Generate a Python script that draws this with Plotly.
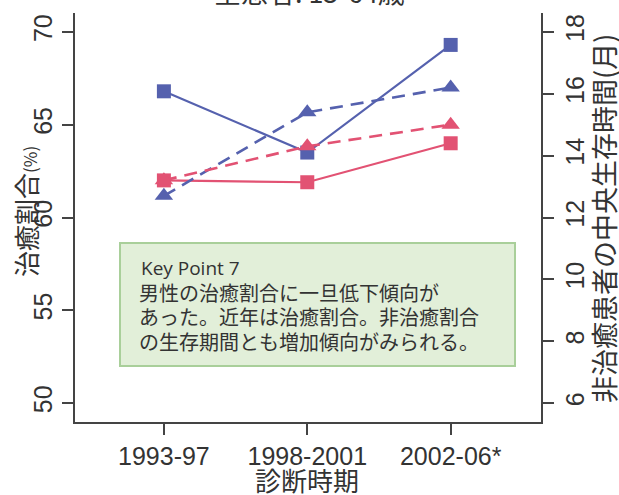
import plotly.graph_objects as go

periods = ["1993-97", "1998-2001", "2002-06*"]
cure_male = [66.8, 63.5, 69.3]
cure_female = [62.0, 61.9, 64.0]
surv_male = [12.7, 15.4, 16.2]
surv_female = [13.2, 14.3, 15.0]
left_ticks = [50, 55, 60, 65, 70]
right_ticks = [6, 8, 10, 12, 14, 16, 18]

BLUE = "#5561AE"
RED = "#E25273"
AX = "#444444"
CJK = "Noto Sans CJK JP"
NUM = "Liberation Sans, Arial, sans-serif"

W, H = 619, 495
L, R, T, B = 75, 541, 13, 422


def px(x):
    return (x - L) / (R - L)


def py(y):
    return (B - y) / (B - T)


fig = go.Figure()
fig.add_trace(go.Scatter(x=periods, y=cure_male, mode="lines+markers",
                         line=dict(color=BLUE, width=2.2),
                         marker=dict(symbol="square", size=14, color=BLUE)))
fig.add_trace(go.Scatter(x=periods, y=surv_male, yaxis="y2", mode="lines+markers",
                         line=dict(color=BLUE, width=2.6, dash="13px,8px"),
                         marker=dict(symbol="triangle-up", size=16, color=BLUE)))
fig.add_trace(go.Scatter(x=periods, y=cure_female, mode="lines+markers",
                         line=dict(color=RED, width=2.2),
                         marker=dict(symbol="square", size=14, color=RED)))
fig.add_trace(go.Scatter(x=periods, y=surv_female, yaxis="y2", mode="lines+markers",
                         line=dict(color=RED, width=2.6, dash="13px,8px"),
                         marker=dict(symbol="triangle-up", size=16, color=RED)))

# Key Point box
fig.add_shape(type="rect", xref="paper", yref="paper", layer="below",
              x0=px(120), x1=px(515), y0=py(366), y1=py(243),
              fillcolor="#E2EFD9", line=dict(color="#A9CF9A", width=2))
fig.add_annotation(xref="paper", yref="paper", x=px(139), y=py(268), xanchor="left",
                   yanchor="middle", showarrow=False, text="Key Point 7",
                   font=dict(family="Open Sans, " + CJK, size=19, color="#333333"))
box_lines = ["男性の治癒割合に一旦低下傾向が",
             "あった。近年は治癒割合。非治癒割合",
             "の生存期間とも増加傾向がみられる。"]
for n, t in enumerate(box_lines):
    fig.add_annotation(xref="paper", yref="paper", x=px(137), y=py(292 + 24.5 * n),
                       xanchor="left", yanchor="middle", showarrow=False, text=t,
                       font=dict(family=CJK, size=20, color="#333333"))

# titles
fig.add_annotation(xref="paper", yref="paper", x=px(309), y=py(13), xanchor="center",
                   yanchor="bottom", showarrow=False, text="全患者: 15-64歳",
                   font=dict(family=CJK, size=27, color="#333333"))
fig.add_annotation(xref="paper", yref="paper", x=px(307), y=py(480), xanchor="center",
                   yanchor="middle", showarrow=False, text="診断時期",
                   font=dict(family=CJK, size=26, color="#333333"))
fig.add_annotation(xref="paper", yref="paper", x=px(25), y=py(212), xanchor="center",
                   yanchor="middle", showarrow=False, textangle=-90,
                   text="治癒割合<span style='font-size:17px'>(%)</span>",
                   font=dict(family=CJK, size=26, color="#333333"))
fig.add_annotation(xref="paper", yref="paper", x=px(603), y=py(219), xanchor="center",
                   yanchor="middle", showarrow=False, textangle=-90,
                   text="非治癒患者の中央生存時間(月)",
                   font=dict(family=CJK, size=27, color="#333333"))

axis_style = dict(showline=True, linecolor=AX, linewidth=1.5, ticks="outside", ticklen=11,
                  tickcolor=AX, tickwidth=1.5, showgrid=False, zeroline=False,
                  automargin=False, tickfont=dict(family=NUM, size=25, color="#333333"))

fig.update_layout(
    width=W, height=H, showlegend=False,
    paper_bgcolor="white", plot_bgcolor="white",
    margin=dict(l=L, r=W - R, t=T, b=H - B),
    xaxis=dict(range=[-0.62, 2.63], **axis_style),
    yaxis=dict(range=[48.98, 71.02], tickvals=left_ticks, tickangle=-90, **axis_style),
    yaxis2=dict(range=[5.39, 18.61], tickvals=right_ticks, overlaying="y", side="right",
                tickangle=-90, **axis_style),
)

fig.write_html("out.html", config={"displayModeBar": False},
               post_script="document.body.style.margin='0';")
